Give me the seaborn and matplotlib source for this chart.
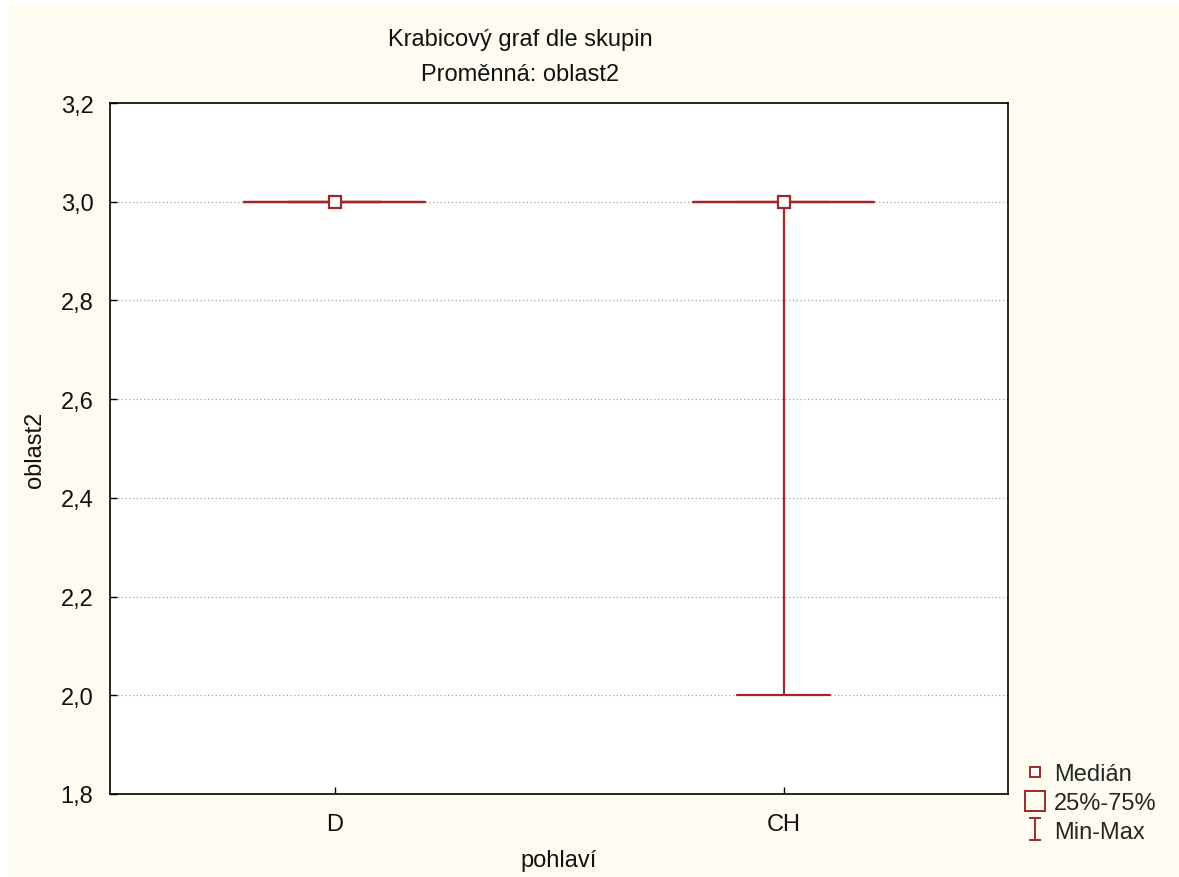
import numpy as np
import pandas as pd
import matplotlib
matplotlib.use("Agg")
import matplotlib.pyplot as plt
from matplotlib.lines import Line2D
from matplotlib.path import Path
from matplotlib.patches import Rectangle
import seaborn as sns

# ---- data (five-number summaries) ----
groups = ["D", "CH"]
minimum = [3.0, 2.0]
q1 = [3.0, 3.0]
median = [3.0, 3.0]
q3 = [3.0, 3.0]
maximum = [3.0, 3.0]
yticks = [1.8, 2.0, 2.2, 2.4, 2.6, 2.8, 3.0, 3.2]

rows = []
for g, a, b, c, d, e in zip(groups, minimum, q1, median, q3, maximum):
    for v in (a, b, c, d, e):
        rows.append({"pohlaví": g, "oblast2": v})
df = pd.DataFrame(rows)

sns.set_theme(style="white")
plt.rcParams["font.family"] = ["Liberation Sans", "DejaVu Sans"]

RED = "#A02828"
CREAM = "#FEFCF0"
FS = 17
TXT = "#111111"

fig = plt.figure(figsize=(11.79, 8.78), dpi=100, facecolor="white")
fig.patches.append(Rectangle((8 / 1179, 0), 1, 1 - 7 / 878, transform=fig.transFigure,
                             facecolor=CREAM, edgecolor="none", zorder=-10))
ax = fig.add_axes([110 / 1179, 1 - 795 / 878, (1008 - 110) / 1179, (795 - 104) / 878])
ax.set_facecolor("white")

sns.boxplot(data=df, x="pohlaví", y="oblast2", order=groups, ax=ax,
            whis=(0, 100), width=0.405, fill=False, color=RED, linecolor=RED,
            linewidth=1.6, showfliers=False, capwidths=0.205,
            medianprops={"visible": False})

sns.pointplot(data=df, x="pohlaví", y="oblast2", order=groups, ax=ax,
              estimator="median", errorbar=None, linestyle="none", color=RED,
              marker="s", markersize=8, markerfacecolor="white",
              markeredgecolor=RED, markeredgewidth=1.6, zorder=5)

ax.set_xlim(-0.5, 1.5)
ax.set_ylim(1.8, 3.2)
ax.set_yticks(yticks)
ax.set_yticklabels([f"{t:.1f}".replace(".", ",") for t in yticks], fontsize=FS)
ax.set_xticks(range(len(groups)))
ax.set_xticklabels(groups, fontsize=FS)
ax.tick_params(axis="both", direction="in", length=5, width=1, color="black",
               left=True, bottom=True, labelcolor=TXT)
ax.tick_params(axis="x", pad=14)
ax.tick_params(axis="y", pad=12)
ax.yaxis.grid(True, linestyle=(0, (1, 2)), color="#a0a0a0", linewidth=0.9)
ax.xaxis.grid(False)
ax.set_axisbelow(True)
for s in ax.spines.values():
    s.set_color("black")
    s.set_linewidth(1.2)

ax.set_xlabel("pohlaví", fontsize=FS, labelpad=10, color=TXT)
ax.set_ylabel("oblast2", fontsize=FS, color=TXT)
ax.yaxis.set_label_coords(-64 / 898, 0.5)
fig.text(520 / 1179, 1 - 40 / 878, "Krabicový graf dle skupin",
         ha="center", va="center", fontsize=FS, color=TXT)
fig.text(520 / 1179, 1 - 75 / 878, "Proměnná: oblast2",
         ha="center", va="center", fontsize=FS, color=TXT)

ibeam = Path([(-0.5, -1), (0.5, -1), (0, -1), (0, 1), (-0.5, 1), (0.5, 1)],
             [Path.MOVETO, Path.LINETO, Path.MOVETO, Path.LINETO, Path.MOVETO, Path.LINETO])
handles = [
    Line2D([], [], linestyle="none", marker="s", markersize=7, markerfacecolor="white",
           markeredgecolor=RED, markeredgewidth=1.4),
    Line2D([], [], linestyle="none", marker="s", markersize=15, markerfacecolor="none",
           markeredgecolor=RED, markeredgewidth=1.4),
    Line2D([], [], linestyle="none", marker=ibeam, markersize=16, markerfacecolor="none",
           markeredgecolor=RED, markeredgewidth=1.4),
]
fig.legend(handles, ["Medián", "25%-75%", "Min-Max"], loc="lower left",
           bbox_to_anchor=(1014 / 1179, 25 / 878), frameon=False, fontsize=FS,
           handlelength=1.0, handletextpad=0.3, labelspacing=0.28, borderaxespad=0)

fig.savefig("out.png", dpi=100, facecolor=fig.get_facecolor())
